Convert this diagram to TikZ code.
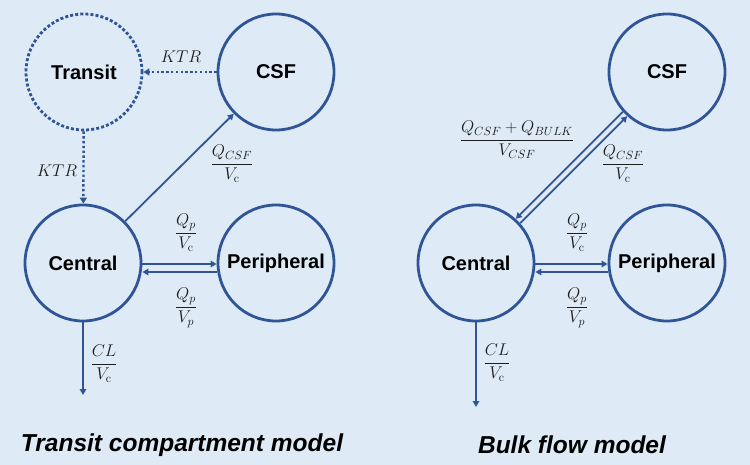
\RequirePackage{fix-cm}
\documentclass[tikz,border=0pt]{standalone}
\usepackage[no-math]{fontspec}
\setmainfont{Liberation Sans}
\usetikzlibrary{arrows.meta}
\definecolor{bgc}{RGB}{222,235,247}
\definecolor{lc}{RGB}{47,85,151}
\definecolor{txt}{RGB}{30,30,30}
\begin{document}
\begin{tikzpicture}[x=1pt,y=-1pt,
  comp/.style={circle,draw=lc,line width=2.8pt,minimum size=116pt,inner sep=0pt,
    font=\fontsize{20}{24}\selectfont\bfseries},
  dotcomp/.style={comp,dash pattern=on 3pt off 2.1pt},
  flow/.style={draw=lc,line width=1.8pt,-{Triangle[length=6pt,width=6.5pt]}},
  dotflow/.style={draw=lc,line width=2.4pt,dash pattern=on 2.4pt off 2.4pt,
    -{Triangle[length=6pt,width=7pt]}},
  lab/.style={inner sep=0pt,anchor=base,text=txt,font=\fontsize{17}{20}\selectfont},
  ttl/.style={font=\fontsize{24.5}{29}\selectfont\bfseries\itshape,inner sep=0pt}]
\fill[bgc] (0,0) rectangle (750,465);
\useasboundingbox (0,0) rectangle (750,465);

% ---------- left panel ----------
\node[dotcomp] (transit) at (84,72) {Transit};
\node[comp] (csfL) at (276,72) {CSF};
\node[comp] (centralL) at (83,263) {Central};
\node[comp] (periL) at (276,263) {Peripheral};
\coordinate (outL) at (83,395);

\draw[dotflow] (csfL) -- (transit);
\draw[dotflow] (transit) -- (centralL);
\draw[flow] (centralL) -- (csfL);
\draw[flow] ([yshift=-1pt]centralL.east) -- ([yshift=-1pt]periL.west);
\draw[flow] ([yshift=-9pt]periL.west) -- ([yshift=-9pt]centralL.east);
\draw[flow] (centralL) -- (outL);

\node[lab] (ktr1) at (181,63) {$KTR$};
\node[lab] (ktr2) at (57,177) {$KTR$};
\node[lab] (qcsfL) at (232,168) {$\displaystyle\frac{Q_{CSF}}{V_{\mathrm{c}}}$};
\node[lab] (qpvcL) at (186,237) {$\displaystyle\frac{Q_p}{V_{\mathrm{c}}}$};
\node[lab] (qpvpL) at (186,311) {$\displaystyle\frac{Q_p}{V_p}$};
\node[lab] (clL) at (104,368) {$\displaystyle\frac{CL}{V_{\mathrm{c}}}$};
\node[ttl] (titleL) at (182,445) {Transit compartment model};

% ---------- right panel ----------
\node[comp] (csfR) at (667,72) {CSF};
\node[comp] (centralR) at (476,263) {Central};
\node[comp] (periR) at (667,263) {Peripheral};
\coordinate (outR) at (476,407);

\draw[flow] ([shift={(2.2pt,-2.2pt)}]centralR.45) -- ([shift={(2.2pt,-2.2pt)}]csfR.225);
\draw[flow] ([shift={(-2.2pt,2.2pt)}]csfR.225) -- ([shift={(-2.2pt,2.2pt)}]centralR.45);
\draw[flow] ([yshift=-1pt]centralR.east) -- ([yshift=-1pt]periR.west);
\draw[flow] ([yshift=-9pt]periR.west) -- ([yshift=-9pt]centralR.east);
\draw[flow] (centralR) -- (outR);

\node[lab] (bulk) at (517,144) {$\displaystyle\frac{Q_{CSF}+Q_{BULK}}{V_{CSF}}$};
\node[lab] (qcsfR) at (623,168) {$\displaystyle\frac{Q_{CSF}}{V_{\mathrm{c}}}$};
\node[lab] (qpvcR) at (577,237) {$\displaystyle\frac{Q_p}{V_{\mathrm{c}}}$};
\node[lab] (qpvpR) at (577,311) {$\displaystyle\frac{Q_p}{V_p}$};
\node[lab] (clR) at (497,367) {$\displaystyle\frac{CL}{V_{\mathrm{c}}}$};
\node[ttl] (titleR) at (572,445) {Bulk flow model};
\end{tikzpicture}
\end{document}
